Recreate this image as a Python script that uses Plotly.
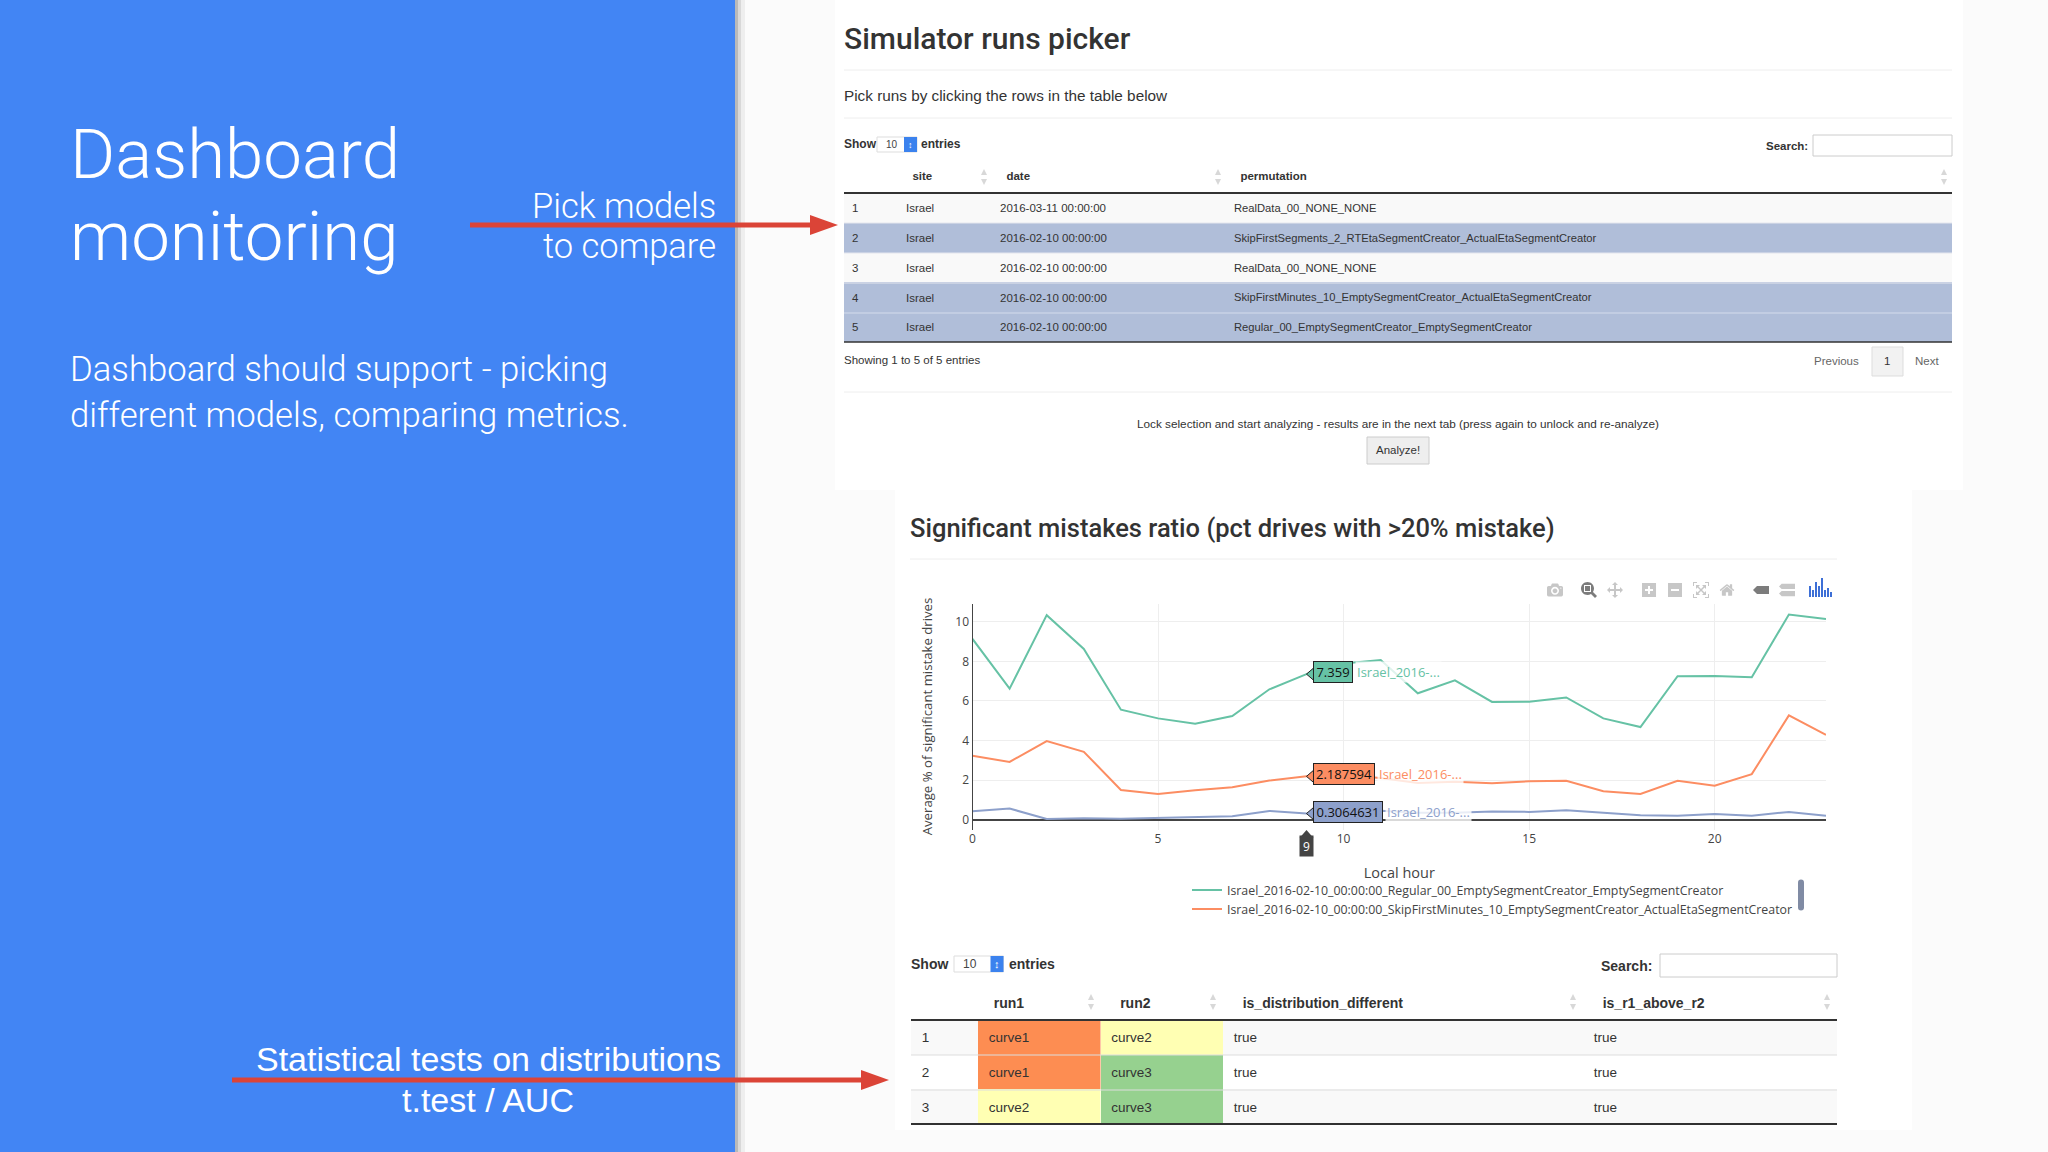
"""
Dashboard monitoring slide: runs picker table, mistakes ratio chart, stat tests table
"""

import plotly.graph_objects as go

W, H = 2048, 1152

# Chart data
hours = list(range(24))
regular = [9.14, 6.62, 10.34, 8.63, 5.56, 5.12, 4.85, 5.24, 6.59, 7.359, 7.9, 8.07,
           6.39, 7.04, 5.95, 5.96, 6.18, 5.12, 4.68, 7.25, 7.26, 7.2, 10.37, 10.14]
skip_minutes = [3.23, 2.92, 3.97, 3.43, 1.5, 1.3, 1.49, 1.64, 1.98, 2.187594, 2.25, 2.1,
                1.85, 1.91, 1.84, 1.94, 1.96, 1.44, 1.3, 1.96, 1.71, 2.3, 5.27, 4.29]
skip_segments = [0.42, 0.56, 0.03, 0.07, 0.05, 0.08, 0.14, 0.17, 0.44, 0.3064631, 0.35, 0.45,
                 0.35, 0.35, 0.41, 0.39, 0.47, 0.35, 0.22, 0.19, 0.29, 0.2, 0.39, 0.2]
series_names = [
    "Israel_2016-02-10_00:00:00_Regular_00_EmptySegmentCreator_EmptySegmentCreator",
    "Israel_2016-02-10_00:00:00_SkipFirstMinutes_10_EmptySegmentCreator_ActualEtaSegmentCreator",
    "Israel_2016-02-10_00:00:00_SkipFirstSegments_2_RTEtaSegmentCreator_ActualEtaSegmentCreator",
]
hover_hour = 9
hover_texts = ["7.359", "2.187594", "0.3064631"]

# Runs picker table
run_ids = ["1", "2", "3", "4", "5"]
run_sites = ["Israel"] * 5
run_dates = ["2016-03-11 00:00:00", "2016-02-10 00:00:00", "2016-02-10 00:00:00",
             "2016-02-10 00:00:00", "2016-02-10 00:00:00"]
run_permutations = ["RealData_00_NONE_NONE",
                    "SkipFirstSegments_2_RTEtaSegmentCreator_ActualEtaSegmentCreator",
                    "RealData_00_NONE_NONE",
                    "SkipFirstMinutes_10_EmptySegmentCreator_ActualEtaSegmentCreator",
                    "Regular_00_EmptySegmentCreator_EmptySegmentCreator"]
run_selected = [False, True, False, True, True]

# Statistical tests table
test_ids = ["1", "2", "3"]
test_run1 = ["curve1", "curve1", "curve2"]
test_run2 = ["curve2", "curve3", "curve3"]
test_different = ["true", "true", "true"]
test_above = ["true", "true", "true"]

GREEN, ORANGE, BLUE = "#66c2a5", "#fc8d62", "#8da0cb"
CURVE_COLORS = {"curve1": "#fd8d52", "curve2": "#ffffb3", "curve3": "#96d18f"}
SLIDE_BLUE = "#4285f4"
ARROW_RED = "#db4437"
SANS = "Liberation Sans"


def px(x):
    return x / W


def py(y):
    return 1 - y / H


def rect(x0, y0, x1, y1, fill, line=None, layer="below", width=1):
    return dict(type="rect", xref="paper", yref="paper", x0=px(x0), x1=px(x1), y0=py(y0), y1=py(y1),
                fillcolor=fill, line=dict(color=line, width=width if line else 0), layer=layer)


def hline(x0, x1, y, color, width=1, layer="below"):
    return dict(type="line", xref="paper", yref="paper", x0=px(x0), x1=px(x1), y0=py(y), y1=py(y),
                line=dict(color=color, width=width), layer=layer)


def poly(points, fill, layer="above"):
    path = "M" + " L".join(f"{px(x)},{py(y)}" for x, y in points) + " Z"
    return dict(type="path", xref="paper", yref="paper", path=path, fillcolor=fill,
                line=dict(width=0), layer=layer)


def label(x, y, text, size=12, color="#333", anchor="left", family=SANS, bold=False, weight=None):
    w = weight if weight else (700 if bold else 400)
    # annotation boxes carry a small padding, take it back out
    nudge = {"left": -2, "right": 2, "center": 0}[anchor]
    return dict(xref="paper", yref="paper", x=px(x + nudge), y=py(y), text=text, showarrow=False,
                xanchor=anchor, yanchor="middle", align=anchor,
                font=dict(family=family, size=size, color=color, weight=w))


def arrow(x0, x1, y):
    return [hline(x0, x1 - 26, y, ARROW_RED, 5, "above"),
            poly([(x1 - 28, y - 10), (x1, y), (x1 - 28, y + 10)], ARROW_RED)]


def sort_icon(x, y):
    return [poly([(x - 3, y - 2), (x, y - 8), (x + 3, y - 2)], "#d8d8d8"),
            poly([(x - 3, y + 2), (x, y + 8), (x + 3, y + 2)], "#d8d8d8")]


def select_box(x0, x1, y0, y1, size):
    shapes = [rect(x0, y0, x1, y1, "#ffffff", "#dddddd"), rect(x1 - 13, y0, x1, y1, "#3b82ee")]
    texts = [label(x0 + 9, (y0 + y1) / 2, "10", size, "#444"),
             label(x1 - 6.5, (y0 + y1) / 2, "↕", size - 1, "#ffffff", "center")]
    return shapes, texts


fig = go.Figure()

# Lines
for values, name, color in zip([regular, skip_minutes, skip_segments], series_names, [GREEN, ORANGE, BLUE]):
    fig.add_trace(go.Scatter(x=hours, y=values, mode="lines", name=name, line=dict(color=color, width=2)))

# Tables
fig.add_trace(go.Table(
    domain=dict(x=[px(844), px(1952)], y=[py(342), py(161)]),
    columnwidth=[54, 94, 234, 726],
    header=dict(
        values=["", "\u00a0\u00a0site", "\u00a0\u00a0date", "\u00a0\u00a0permutation"],
        height=32, align="left", fill=dict(color="rgba(0,0,0,0)"), line=dict(width=0),
        font=dict(family=SANS, size=11.5, color="#333", weight=700),
    ),
    cells=dict(
        values=[run_ids, run_sites, run_dates, run_permutations],
        height=29.8, align="left", line=dict(width=0),
        fill=dict(color=[["#b0bed9" if s else "#f9f9f9" for s in run_selected]]),
        font=dict(family=SANS, size=[11.5, 11.5, 11.5, 11.2], color="#333"),
    ),
))
fig.add_trace(go.Table(
    domain=dict(x=[px(911), px(1837)], y=[py(1124), py(985)]),
    columnwidth=[67, 122.5, 122.5, 360, 254],
    header=dict(
        values=["", "\u00a0\u00a0run1", "\u00a0\u00a0\u00a0run2", "\u00a0\u00a0\u00a0is_distribution_different",
                "\u00a0\u00a0\u00a0is_r1_above_r2"],
        height=35, align="left", fill=dict(color="rgba(0,0,0,0)"), line=dict(width=0),
        font=dict(family=SANS, size=14, color="#333", weight=700),
    ),
    cells=dict(
        values=[test_ids, test_run1, test_run2, test_different, test_above],
        prefix="\u2009",
        height=34.7, align="left", line=dict(width=0),
        fill=dict(color=[
            ["#f9f9f9", "#ffffff", "#f9f9f9"],
            [CURVE_COLORS[c] for c in test_run1],
            [CURVE_COLORS[c] for c in test_run2],
            ["#f9f9f9", "#ffffff", "#f9f9f9"],
            ["#f9f9f9", "#ffffff", "#f9f9f9"],
        ]),
        font=dict(family=SANS, size=13.5, color="#333"),
    ),
))

# Slide background and panels
shapes = [
    rect(735, 0, W, H, "#fbfbfb"),
    rect(835, 0, 1963, 490, "#ffffff"),
    rect(895, 490, 1912, 1130, "#ffffff"),
    rect(735, 0, 738, H, "#b9b9b9"),
    rect(738, 0, 741, H, "#d8d8d8"),
    rect(741, 0, 745, H, "#eeeeee"),
    rect(0, 0, 735, H, SLIDE_BLUE),
    hline(844, 1952, 70, "#eeeeee"),
    hline(844, 1952, 118, "#eeeeee"),
    hline(844, 1952, 392, "#eeeeee"),
    hline(910, 1837, 559, "#eeeeee"),
    hline(844, 1952, 193, "#333333", 2, "above"),
    hline(844, 1952, 342, "#333333", 1.5, "above"),
    hline(844, 1952, 223, "#e4e6ee", 1, "above"),
    hline(844, 1952, 253, "#e4e6ee", 1, "above"),
    hline(844, 1952, 283, "#e4e6ee", 1, "above"),
    hline(844, 1952, 313, "#d4dcec", 1, "above"),
    hline(911, 1837, 1020, "#333333", 2, "above"),
    hline(911, 1837, 1055, "#dddddd", 1, "above"),
    hline(911, 1837, 1090, "#dddddd", 1, "above"),
    hline(911, 1837, 1124, "#333333", 2, "above"),
    # Search inputs, pagination, button
    rect(1813, 135, 1952, 156, "#ffffff", "#cccccc"),
    rect(1660, 954, 1837, 977, "#ffffff", "#cccccc"),
    rect(1872, 347, 1903, 376, "#f2f2f2", "#dddddd"),
    rect(1367, 437, 1429, 464, "#eeeeee", "#cccccc"),
]
shapes += arrow(470, 838, 225)
shapes += arrow(232, 889, 1080)
for sx in [984, 1218, 1944]:
    shapes += sort_icon(sx, 177)
for sx in [1091, 1213, 1573, 1827]:
    shapes += sort_icon(sx, 1002)

annotations = [
    label(70, 154, "Dashboard", 69, "#ffffff", family="Roboto", weight=300),
    label(70, 236, "monitoring", 69, "#ffffff", family="Roboto", weight=300),
    label(716, 206, "Pick models", 34.5, "#ffffff", "right", family="Roboto", weight=300),
    label(716, 246, "to compare", 34.5, "#ffffff", "right", family="Roboto", weight=300),
    label(70, 369, "Dashboard should support - picking", 34.7, "#ffffff", family="Roboto", weight=300),
    label(70, 415, "different models, comparing metrics.", 34.7, "#ffffff", family="Roboto", weight=300),
    label(488, 1059, "Statistical tests on distributions", 34, "#ffffff", "center"),
    label(488, 1100, "t.test / AUC", 34, "#ffffff", "center"),
    label(844, 39, "Simulator runs picker", 30, "#333", family="Roboto", weight=500),
    label(844, 95, "Pick runs by clicking the rows in the table below", 15.3, "#333"),
    label(844, 144, "Show", 12, "#333", bold=True),
    label(921, 144, "entries", 12, "#333", bold=True),
    label(1808, 146, "Search:", 11.5, "#333", "right", bold=True),
    label(844, 360, "Showing 1 to 5 of 5 entries", 11.5, "#333"),
    label(1836, 361, "Previous", 11.5, "#666", "center"),
    label(1887, 361, "1", 11.5, "#333", "center"),
    label(1927, 361, "Next", 11.5, "#666", "center"),
    label(1398, 423, "Lock selection and start analyzing - results are in the next tab (press again to unlock and re-analyze)",
          11.75, "#333", "center"),
    label(1398, 450, "Analyze!", 11.5, "#333", "center"),
    label(910, 528, "Significant mistakes ratio (pct drives with >20% mistake)", 25.5, "#333", family="Roboto", weight=500),
    label(911, 964, "Show", 14, "#333", bold=True),
    label(1009, 964, "entries", 14, "#333", bold=True),
    label(1652, 966, "Search:", 14, "#333", "right", bold=True),
]
for box in [(877, 917, 137, 152, 10), (954, 1003.5, 956, 972, 12)]:
    box_shapes, box_texts = select_box(*box)
    shapes += box_shapes
    annotations += box_texts

# Hover labels at the picked hour
for values, color, text, box_w in zip([regular, skip_minutes, skip_segments], [GREEN, ORANGE, BLUE], hover_texts, [40, 62, 70]):
    yval = values[hover_hour]
    shapes.append(dict(type="path", xref="x", yref="y", xsizemode="pixel", ysizemode="pixel",
                       xanchor=hover_hour, yanchor=yval, path="M0,0 L7,-6 L7,6 Z",
                       fillcolor=color, line=dict(color="#222", width=1), layer="above"))
    annotations.append(dict(xref="x", yref="y", x=hover_hour, y=yval, xshift=7 + box_w + 2, yshift=2, xanchor="left",
                            yanchor="middle", showarrow=False, text="Israel_2016-...", bgcolor="rgba(255,255,255,0.8)",
                            font=dict(family="Open Sans", size=13, color=color)))
    annotations.append(dict(xref="x", yref="y", x=hover_hour, y=yval, xshift=7, yshift=2, xanchor="left",
                            yanchor="middle", showarrow=False, text=text, width=box_w - 4, height=18, align="center",
                            bgcolor=color, bordercolor="#222", borderwidth=1,
                            font=dict(family="Open Sans", size=13, color="#111")))

# Spike label under the x axis
annotations.append(dict(xref="x", yref="paper", x=hover_hour, y=py(846), yanchor="middle", showarrow=False,
                        text=str(hover_hour), width=11, height=18, bgcolor="#444444",
                        font=dict(family="Open Sans", size=12, color="#ffffff")))
shapes.append(dict(type="path", xref="x", yref="paper", xsizemode="pixel", xanchor=hover_hour,
                   path=f"M-7,{py(838)} L0,{py(830)} L7,{py(838)} Z", fillcolor="#444444",
                   line=dict(width=0), layer="above"))

# Plotly logo in the chart toolbar
for bx, top in zip(range(1809, 1833, 3), [586, 590, 582, 586, 578, 590, 588, 592]):
    shapes.append(rect(bx, top, bx + 2, 597, "#3d6fd6", layer="above"))

fig.update_layout(
    width=W, height=H,
    margin=dict(l=0, r=0, t=0, b=0, autoexpand=False),
    paper_bgcolor="#ffffff", plot_bgcolor="rgba(0,0,0,0)",
    font=dict(family="Open Sans", size=12, color="#444"),
    hovermode="closest",
    shapes=shapes, annotations=annotations,
    xaxis=dict(domain=[px(972.5), px(1826)], range=[0, 23], tickvals=[0, 5, 10, 15, 20],
               showgrid=True, gridcolor="#eeeeee", zeroline=False, showline=False,
               title=dict(text="Local hour", font=dict(size=14.5), standoff=21.5), automargin=False),
    yaxis=dict(domain=[py(829.5), py(603.5)], range=[-0.5, 10.93], tickvals=[0, 2, 4, 6, 8, 10],
               showgrid=True, gridcolor="#eeeeee", zeroline=True, zerolinecolor="#444444", zerolinewidth=2,
               showline=True, linecolor="#444444", linewidth=1,
               title=dict(text="Average % of significant mistake drives", font=dict(size=13.2), standoff=19), automargin=False),
    legend=dict(x=px(1187), y=py(875.5), xanchor="left", yanchor="top", maxheight=46, itemwidth=30,
                entrywidth=553, entrywidthmode="pixels",
                font=dict(family="Open Sans", size=12.35, color="#444"), bgcolor="rgba(0,0,0,0)"),
    modebar=dict(color="rgba(68,68,68,0.3)", activecolor="rgba(68,68,68,0.7)", bgcolor="rgba(0,0,0,0)"),
)

config = dict(
    displayModeBar=True, displaylogo=False,
    modeBarButtons=[["toImage"], ["zoom2d", "pan2d"],
                    ["zoomIn2d", "zoomOut2d", "autoScale2d", "resetScale2d"],
                    ["hoverClosestCartesian", "hoverCompareCartesian"]],
)
# page margin off, toolbar moved to the chart corner, table text dropped to the row centres
post_script = """
document.body.style.margin = '0';
document.body.style.overflow = 'hidden';
var bar = document.querySelector('.modebar');
if (bar) { bar.style.top = '579px'; bar.style.right = '248px'; }
document.querySelectorAll('.modebar-btn').forEach(function(b) { b.style.padding = '3px 5px'; });
var drops = [2.6, 4];
document.querySelectorAll('.table-control-view').forEach(function(t, i) {
  t.querySelectorAll('.cell-text').forEach(function(c) {
    c.setAttribute('transform', 'translate(0,' + drops[i] + ')');
  });
});
"""

fig.write_html("out.html", config=config, post_script=post_script)
